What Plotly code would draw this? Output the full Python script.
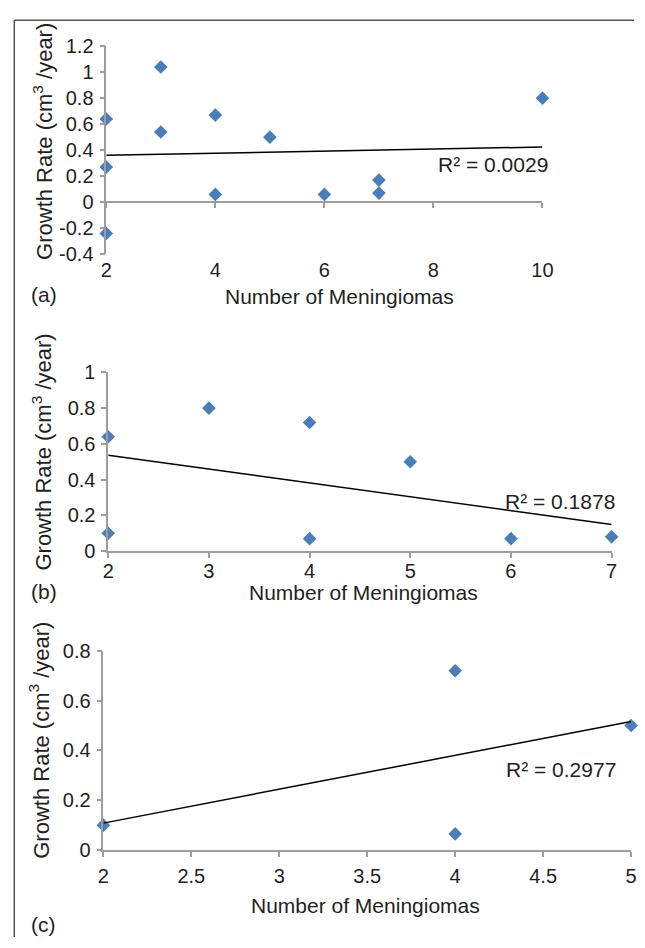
import numpy as np
import plotly.graph_objects as go

W, H = 645, 948

# ---------------- data ----------------
a_x = [2, 2, 2, 3, 3, 4, 4, 5, 6, 7, 7, 10]
a_y = [0.64, 0.27, -0.24, 1.04, 0.54, 0.67, 0.06, 0.50, 0.06, 0.17, 0.07, 0.80]
a_r2 = "R² = 0.0029"

b_x = [2, 2, 3, 4, 4, 5, 6, 7]
b_y = [0.64, 0.10, 0.80, 0.72, 0.07, 0.50, 0.07, 0.08]
b_r2 = "R² = 0.1878"

c_x = [2, 4, 4, 5]
c_y = [0.10, 0.72, 0.065, 0.50]
c_r2 = "R² = 0.2977"

a_yticks = [-0.4, -0.2, 0, 0.2, 0.4, 0.6, 0.8, 1, 1.2]
a_yticktext = ["-0.4", "-0.2", "0", "0.2", "0.4", "0.6", "0.8", "1", "1.2"]
a_xticks = [2, 4, 6, 8, 10]
b_yticks = [0, 0.2, 0.4, 0.6, 0.8, 1]
b_yticktext = ["0", "0.2", "0.4", "0.6", "0.8", "1"]
b_xticks = [2, 3, 4, 5, 6, 7]
c_yticks = [0, 0.2, 0.4, 0.6, 0.8]
c_yticktext = ["0", "0.2", "0.4", "0.6", "0.8"]
c_xticks = [2, 2.5, 3, 3.5, 4, 4.5, 5]
c_xticktext = ["2", "2.5", "3", "3.5", "4", "4.5", "5"]

x_title = "Number of Meningiomas"
y_title = "Growth Rate (cm<sup>3</sup> /year)"
panel_labels = ["(a)", "(b)", "(c)"]

# ---------------- style ----------------
FONT = "Arial, Liberation Sans, sans-serif"
TXT = "#231f20"
AXC = "#9d9d9d"
MK = "#4a7ebb"


def px_x(p):
    return p / W


def px_y(p):
    return 1 - p / H


fig = go.Figure()

panels = [
    dict(x=a_x, y=a_y, xa="x", ya="y"),
    dict(x=b_x, y=b_y, xa="x2", ya="y2"),
    dict(x=c_x, y=c_y, xa="x3", ya="y3"),
]

for p in panels:
    fig.add_trace(go.Scatter(
        x=p["x"], y=p["y"], mode="markers", xaxis=p["xa"], yaxis=p["ya"],
        marker=dict(symbol="diamond", size=10.5, color=MK, line=dict(width=0)),
        cliponaxis=False, showlegend=False, hoverinfo="skip"))
    k, b = np.polyfit(p["x"], p["y"], 1)
    xs = np.array([min(p["x"]), max(p["x"])], dtype=float)
    fig.add_trace(go.Scatter(
        x=xs, y=k * xs + b, mode="lines", xaxis=p["xa"], yaxis=p["ya"],
        line=dict(color="#000000", width=1.5), cliponaxis=False,
        showlegend=False, hoverinfo="skip"))

# dummy trace for overlay axis in panel a
fig.add_trace(go.Scatter(x=[], y=[], xaxis="x4", yaxis="y", showlegend=False, hoverinfo="skip"))

tickfont = dict(family=FONT, size=20, color=TXT)

# domains (pixel-measured)
a_dom_x = [px_x(103), px_x(551)]
a_dom_y = [px_y(249), px_y(36)]
b_dom_x = [px_x(105), px_x(622)]
b_dom_y = [px_y(553), px_y(370)]
c_dom_x = [px_x(100), px_x(642)]
c_dom_y = [px_y(859), px_y(655)]

a_range_y = [-0.4, 1.2]
zero_pos = a_dom_y[0] + (0 - a_range_y[0]) / (a_range_y[1] - a_range_y[0]) * (a_dom_y[1] - a_dom_y[0])

common_y = dict(showgrid=False, zeroline=False, showline=True, linecolor=AXC, linewidth=1.5,
                ticks="outside", ticklen=5, tickwidth=1.5, tickcolor=AXC, tickfont=tickfont,
                ticklabelstandoff=2)
common_x = dict(showgrid=False, zeroline=False, tickfont=tickfont)

fig.update_layout(
    width=W, height=H, margin=dict(l=0, r=0, t=0, b=0),
    paper_bgcolor="white", plot_bgcolor="rgba(0,0,0,0)",
    hovermode=False,
    xaxis=dict(domain=a_dom_x, range=[2, 10], anchor="y", tickvals=a_xticks,
               showline=False, ticks="", ticklabelstandoff=2, **common_x),
    xaxis4=dict(domain=a_dom_x, range=[2, 10], overlaying="x", anchor="free", position=zero_pos,
                tickvals=a_xticks, showticklabels=False, showline=True, linecolor=AXC, linewidth=1.5,
                ticks="outside", ticklen=5, tickwidth=1.5, tickcolor=AXC, showgrid=False, zeroline=False),
    yaxis=dict(domain=a_dom_y, range=a_range_y, anchor="x", tickvals=a_yticks,
               ticktext=a_yticktext, **common_y),
    xaxis2=dict(domain=b_dom_x, range=[2, 7], anchor="y2", tickvals=b_xticks,
                showline=True, linecolor=AXC, linewidth=1.5, ticks="outside", ticklen=5,
                tickwidth=1.5, tickcolor=AXC, ticklabelstandoff=-4, **common_x),
    yaxis2=dict(domain=b_dom_y, range=[0, 1], anchor="x2", tickvals=b_yticks,
                ticktext=b_yticktext, **common_y),
    xaxis3=dict(domain=c_dom_x, range=[2, 5], anchor="y3", tickvals=c_xticks, ticktext=c_xticktext,
                showline=True, linecolor=AXC, linewidth=1.5, ticks="outside", ticklen=5,
                tickwidth=1.5, tickcolor=AXC, ticklabelstandoff=2, **common_x),
    yaxis3=dict(domain=c_dom_y, range=[0, 0.8], anchor="x3", tickvals=c_yticks,
                ticktext=c_yticktext, **common_y),
)

ann = []
ytitle_font = dict(family=FONT, size=22, color=TXT)
xtitle_font = dict(family=FONT, size=21, color=TXT)
# y titles
for cx, cy in [(38, 133), (36, 452), (34, 747)]:
    ann.append(dict(text=y_title, x=px_x(cx), y=px_y(cy), xref="paper", yref="paper",
                    textangle=-90, showarrow=False, font=ytitle_font,
                    xanchor="center", yanchor="middle"))
# x titles
for cx, cy in [(343, 292), (367, 595), (369, 916)]:
    ann.append(dict(text=x_title, x=px_x(cx), y=px_y(cy), xref="paper", yref="paper",
                    showarrow=False, font=xtitle_font, xanchor="center", yanchor="middle"))
# panel labels
for lab, cy in zip(panel_labels, [290, 594, 935]):
    ann.append(dict(text=lab, x=px_x(24), y=px_y(cy), xref="paper", yref="paper",
                    showarrow=False, font=xtitle_font, xanchor="left", yanchor="middle"))
# R² labels
for t, cx, cy in [(a_r2, 500, 157), (b_r2, 569, 502), (c_r2, 570, 777)]:
    ann.append(dict(text=t, x=px_x(cx), y=px_y(cy), xref="paper", yref="paper",
                    showarrow=False, font=dict(family=FONT, size=21, color=TXT),
                    xanchor="center", yanchor="middle"))
fig.update_layout(annotations=ann)

# outer frame (top and left)
fig.add_shape(type="line", xref="paper", yref="paper", x0=px_x(8.5), x1=1, y0=px_y(9.5), y1=px_y(9.5),
              line=dict(color="#555555", width=1.5))
fig.add_shape(type="line", xref="paper", yref="paper", x0=px_x(8.5), x1=px_x(8.5), y0=px_y(9.5), y1=0,
              line=dict(color="#555555", width=1.5))

# remove the page's default body margin and scrollbars so the figure fills the window
page_js = ("document.documentElement.style.margin='0';document.body.style.margin='0';"
           "document.documentElement.style.overflow='hidden';document.body.style.overflow='hidden';")

fig.write_html("out.html", post_script=page_js, config={"displayModeBar": False})
